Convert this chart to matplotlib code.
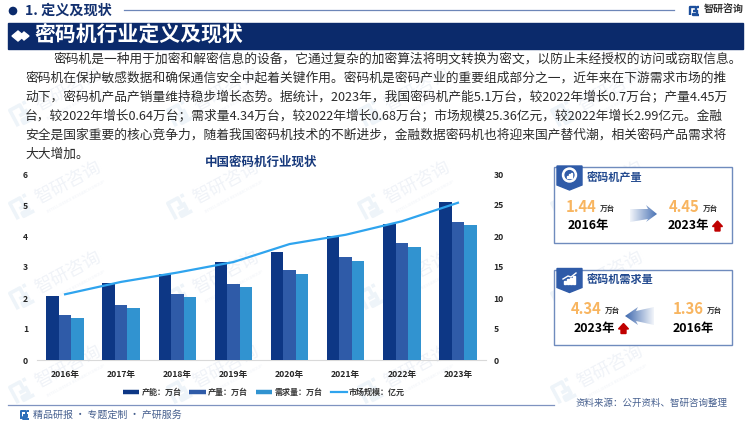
import matplotlib
matplotlib.use("Agg")
import numpy as np
import matplotlib.pyplot as plt
from matplotlib.patches import Polygon, Rectangle, Circle
from matplotlib.lines import Line2D

plt.rcParams['font.family'] = ['Noto Sans CJK SC', 'DejaVu Sans']

years = ['2016年', '2017年', '2018年', '2019年', '2020年', '2021年', '2022年', '2023年']
capacity = [2.06, 2.47, 2.77, 3.16, 3.47, 3.99, 4.40, 5.10]
output = [1.44, 1.76, 2.12, 2.44, 2.90, 3.32, 3.77, 4.45]
demand = [1.36, 1.68, 2.02, 2.37, 2.78, 3.20, 3.63, 4.34]
market = [10.6, 12.6, 14.1, 15.8, 18.7, 20.2, 22.37, 25.36]

series_names = ['产能：万台', '产量：万台', '需求量：万台', '市场规模：亿元']
left_ticks = [0, 1, 2, 3, 4, 5, 6]
right_ticks = [0, 5, 10, 15, 20, 25, 30]

body_lines = [
    (54, 59, '密码机是一种用于加密和解密信息的设备，它通过复杂的加密算法将明文转换为密文，以防止未经授权的访问或窃取信息。'),
    (25, 78, '密码机在保护敏感数据和确保通信安全中起着关键作用。密码机是密码产业的重要组成部分之一，近年来在下游需求市场的推'),
    (25, 97, '动下，密码机产品产销量维持稳步增长态势。据统计，2023年，我国密码机产能5.1万台，较2022年增长0.7万台；产量4.45万'),
    (25, 116, '台，较2022年增长0.64万台；需求量4.34万台，较2022年增长0.68万台；市场规模25.36亿元，较2022年增长2.99亿元。金融'),
    (25, 135, '安全是国家重要的核心竞争力，随着我国密码机技术的不断进步，金融数据密码机也将迎来国产替代潮，相关密码产品需求将'),
    (25, 154, '大大增加。'),
]

NAVY = '#0b2a6b'
C1, C2, C3, C4 = '#0d3785', '#2f5ba8', '#3193d0', '#2fa4ee'
W, H = 750, 421

fig = plt.figure(figsize=(7.5, 4.21), dpi=100, facecolor='white')

bg = fig.add_axes([0, 0, 1, 1], zorder=0)
bg.set_xlim(0, W); bg.set_ylim(H, 0); bg.axis('off')

def logo(ax, x, y, s, color, z=1, lw=2, rot=0):
    t = np.radians(rot)
    paths = [[(-1, 1), (-1, -1), (.25, -1), (.25, .05), (-.35, .05)],
             [(.6, -1), (1, -1)], [(.55, -.3), (.55, .6), (-.3, .6), (-.3, 1), (1, 1)]]
    for p in paths:
        p = np.array(p) * s
        xx = x + p[:, 0] * np.cos(t) + p[:, 1] * np.sin(t)
        yy = y - p[:, 0] * np.sin(t) + p[:, 1] * np.cos(t)
        ax.plot(xx, yy, color=color, lw=lw, zorder=z, solid_capstyle='butt')

WM = '#f0f3f8'
for wx, wy in [(68, 183), (226, 183), (417, 183), (610, 183),
               (68, 273), (226, 273), (417, 273), (610, 273),
               (68, 367), (226, 367), (417, 367), (610, 367),
               (226, 90), (417, 90), (610, 90), (68, 90)]:
    bg.text(wx, wy, '智研咨询', fontsize=13, color=WM, rotation=28,
            ha='center', va='center', zorder=1)
    bg.text(wx + 8, wy + 14, 'INTELLIGENCE RESEARCH GROUP', fontsize=3.0, color=WM,
            rotation=28, ha='center', va='center', zorder=1)
    logo(bg, wx - 46, wy + 24, 9, '#eef4f9', z=1, lw=2.6, rot=28)

bg.add_patch(Circle((13, 11), 3.6, color=NAVY, zorder=3))
bg.text(25, 10.5, '1. 定义及现状', fontsize=10.2, fontweight='bold', color='#12306f', va='center', zorder=3)
bg.plot([124, 674], [10, 10], color='#6d86b8', lw=0.9, zorder=3)
logo(bg, 694.5, 11, 4.3, '#1d4f9c', z=3, lw=1.7)
bg.text(704, 10, '智研咨询', fontsize=7.2, fontweight='bold', color='#333333', va='center', zorder=3)

bg.add_patch(Rectangle((8, 22.5), 735, 26, color=NAVY, zorder=3))
bg.add_patch(Polygon([(12, 36), (18, 31), (24, 36), (18, 41)], color='white', zorder=4))
bg.add_patch(Polygon([(20, 36), (24, 32), (29, 36), (24, 40)], color='white', zorder=4))
bg.text(34, 35, '密码机行业定义及现状', fontsize=15, fontweight='bold', color='white', va='center', zorder=4)

for x, y, s in body_lines:
    bg.text(x, y, s, fontsize=9.17, color='#2b2b2b', va='center', ha='left', zorder=3)

bg.text(261, 162, '中国密码机行业现状', fontsize=9, fontweight='bold', color='#17397c',
        ha='center', va='center', zorder=3)

bg.plot([8, 553.7], [405, 405], color='#7f93c0', lw=0.9, zorder=3)
logo(bg, 24.5, 415, 4, '#2a6cb8', z=3, lw=1.4)
bg.text(33, 415, '精品研报 · 专题定制 · 产研服务', fontsize=7.2, color='#47608f', va='center', zorder=3)
bg.text(575, 403, '资料来源：公开资料、智研咨询整理', fontsize=6.8, color='#47608f', va='center', zorder=3)

def gradient_arrow(ax, pts, extent, cmap_from, cmap_to):
    n = 64
    rgb0, rgb1 = matplotlib.colors.to_rgb(cmap_from), matplotlib.colors.to_rgb(cmap_to)
    grad = np.linspace(0, 1, n)[None, :, None]
    img = np.array(rgb0)[None, None, :] * (1 - grad) + np.array(rgb1)[None, None, :] * grad
    im = ax.imshow(img, extent=extent, aspect='auto', zorder=4, interpolation='bilinear')
    poly = Polygon(pts, transform=ax.transData, fc='none', ec='none')
    ax.add_patch(poly)
    im.set_clip_path(poly)

def red_up(ax, cx, top):
    ax.add_patch(Polygon([(cx - 5, top + 5.5), (cx, top), (cx + 5, top + 5.5), (cx + 2.5, top + 5.5),
                          (cx + 2.5, top + 10), (cx - 2.5, top + 10), (cx - 2.5, top + 5.5)],
                         color='#c00000', zorder=5))

def card(ax, top, title, items):
    ax.add_patch(Rectangle((553.5, top), 178.5, 75.5, fc='white', ec='#6f8bbd', lw=1.0, zorder=3))
    ax.add_patch(Polygon([(557, top - 1), (582, top - 1), (582, top + 18), (569.5, top + 23), (557, top + 18)],
                         color=C2, zorder=4))
    ax.text(587, top + 11, title, fontsize=8, fontweight='bold', color='#234a8f', va='center', zorder=5)
    for x, xy, val, yr, up in items:
        ax.text(x, top + 40, val, fontsize=10.7, fontweight='bold', color='#f8b560', va='center', zorder=5)
        ax.text(x + 33.5, top + 41, '万台', fontsize=5.5, fontweight='bold', color='#333333', va='center', zorder=5)
        ax.text(xy, top + 59, yr, fontsize=8.9, fontweight='bold', color='black', va='center', zorder=5)
        if up:
            red_up(ax, xy + 49.5, top + 54)

card(bg, 167, '密码机产量', [(566, 568, '1.44', '2016年', False), (669, 668, '4.45', '2023年', True)])
card(bg, 269.5, '密码机需求量', [(571, 574, '4.34', '2023年', True), (673, 673, '1.36', '2016年', False)])

bg.add_patch(Circle((569.5, 175), 7, color='white', zorder=5))
bg.add_patch(Circle((569.5, 175), 4.4, color=C2, zorder=6))
for dx, h in zip((-2.2, -0.3, 1.6), (2, 3.5, 5)):
    bg.add_patch(Rectangle((569.5 + dx, 177.6 - h), 1.3, h, color='white', zorder=7))
for dx, h in zip((-6, -3, 0, 3), (3, 5, 6, 8)):
    bg.add_patch(Rectangle((569.5 + dx, 284 - h), 2, h, color='white', zorder=5))
bg.plot([563, 568, 571, 576], [279, 276, 277, 273], color='white', lw=1, zorder=5)

gradient_arrow(bg, [(630, 209), (648, 209), (646, 205), (657, 214), (646, 222), (648, 219), (630, 222)],
               (630, 657, 222, 205), '#f2f5fa', '#4a73b5')
gradient_arrow(bg, [(654, 307), (636, 311), (638, 307), (625, 316), (638, 325), (636, 321), (654, 325)],
               (625, 654, 325, 307), '#3f69ae', '#f2f5fa')
bg.set_xlim(0, W); bg.set_ylim(H, 0)

ax = fig.add_axes([37 / W, 1 - 360 / H, 449 / W, 186 / H], zorder=2)
ax.patch.set_alpha(0)
x = np.arange(len(years))
bw = 0.222
ax.bar(x - bw, capacity, bw, color=C1, label=series_names[0], zorder=3)
ax.bar(x, output, bw, color=C2, label=series_names[1], zorder=3)
ax.bar(x + bw, demand, bw, color=C3, label=series_names[2], zorder=3)
ax.set_xlim(-0.5, len(years) - 0.5)
ax.set_ylim(0, 6)
ax.set_yticks(left_ticks)
ax.set_xticks(x, years)
for s in ('top', 'left', 'right'):
    ax.spines[s].set_visible(False)
ax.spines['bottom'].set_color('#d9d9d9')
ax.spines['bottom'].set_linewidth(0.8)
ax.tick_params(axis='both', length=0, labelsize=6.2, labelcolor='#262626')
ax.tick_params(axis='x', pad=7.5)
ax.tick_params(axis='y', pad=6.5)
for t in ax.get_xticklabels() + ax.get_yticklabels():
    t.set_fontweight('bold')

ax2 = ax.twinx()
ax2.patch.set_alpha(0)
ax2.plot(x, market, color=C4, lw=1.6, zorder=5, label=series_names[3])
ax2.set_ylim(0, 30)
ax2.set_yticks(right_ticks)
for s in ax2.spines.values():
    s.set_visible(False)
ax2.tick_params(axis='y', length=0, labelsize=6.2, labelcolor='#262626', pad=5.5)
for t in ax2.get_yticklabels():
    t.set_fontweight('bold')

handles = [Line2D([], [], color=c, lw=3.2, solid_capstyle='butt') for c in (C1, C2, C3)]
handles.append(Line2D([], [], color=C4, lw=1.6))
leg = fig.legend(handles, series_names, loc='center', bbox_to_anchor=(264 / W, 1 - 392.5 / H), ncol=4,
                 frameon=False, fontsize=5.8, handlelength=2.0, handletextpad=0.3, columnspacing=1.0,
                 labelcolor='#333333')
for t in leg.get_texts():
    t.set_fontweight('bold')

fig.savefig('out.png', dpi=100, facecolor='white')
